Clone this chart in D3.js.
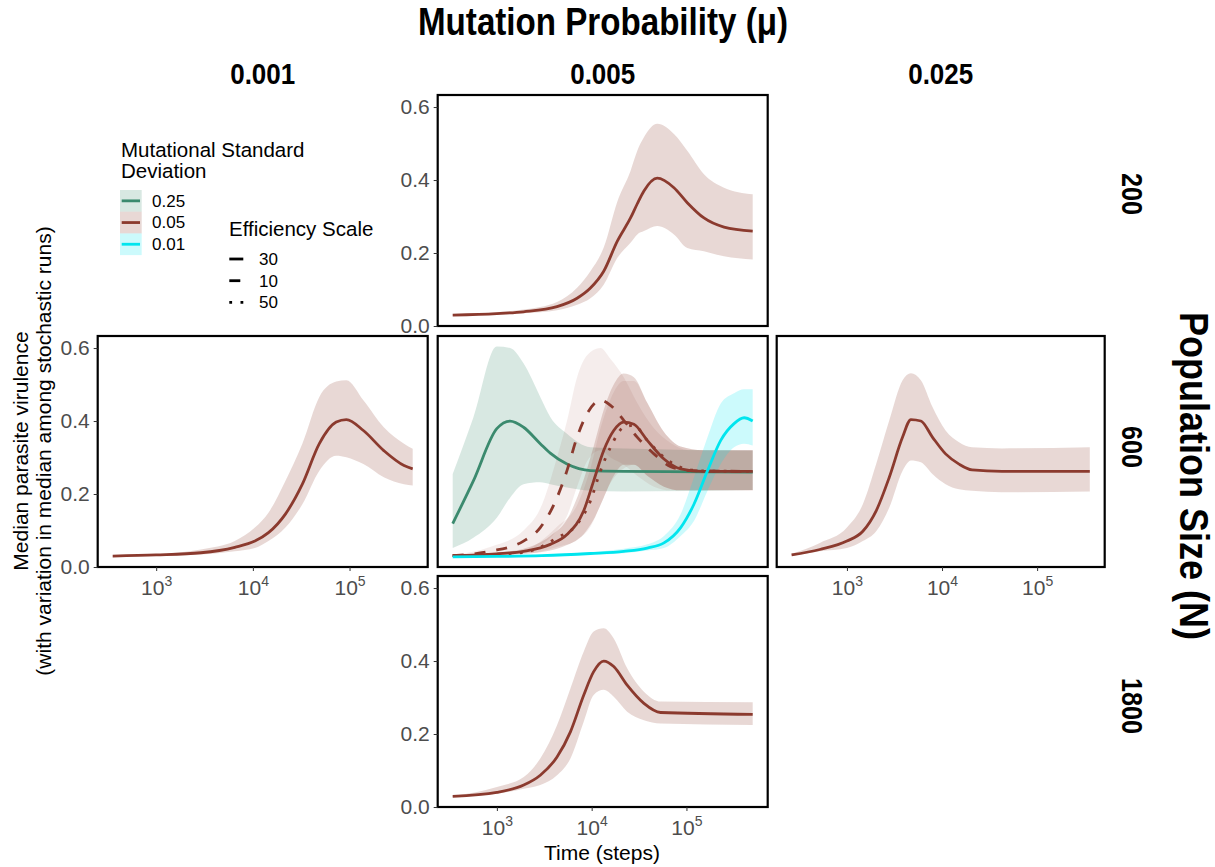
<!DOCTYPE html>
<html>
<head>
<meta charset="utf-8">
<script src="https://cdn.jsdelivr.net/npm/d3@7"></script>
<style>
  body { margin: 0; background: #fff; }
  text { font-family: "Liberation Sans", Arial, Helvetica, sans-serif; }
  .bold { font-family: "Liberation Sans Narrow", "Liberation Sans", Arial, sans-serif; font-weight: bold; }
</style>
</head>
<body>
<div id="chart"></div>
<script>
// facet levels
var muLevels = ['0.001', '0.005', '0.025'];
var popLevels = ['200', '600', '1800'];
var sdLevels = ['0.25', '0.05', '0.01'];
var effLevels = ['30', '10', '50'];
var yTicks = [0, 0.2, 0.4, 0.6];
var xTicks = [1e3, 1e4, 1e5];

// mu = 0.001, N = 600, sd 0.05, eff 30
var tA = [355, 1000, 2900, 6500, 10500, 14500, 21700, 32500, 48700, 72800, 92700, 139000, 226000, 366000, 450000];
var medA = [0.030, 0.033, 0.039, 0.054, 0.071, 0.094, 0.145, 0.227, 0.338, 0.397, 0.404, 0.374, 0.319, 0.278, 0.269];
var loA = [0.029, 0.031, 0.034, 0.043, 0.052, 0.071, 0.108, 0.172, 0.264, 0.305, 0.301, 0.282, 0.246, 0.227, 0.223];
var hiA = [0.031, 0.035, 0.048, 0.071, 0.108, 0.149, 0.236, 0.338, 0.466, 0.508, 0.512, 0.457, 0.383, 0.338, 0.324];

// mu = 0.005, N = 200, sd 0.05, eff 30
var tB = [342, 1000, 1910, 4310, 7020, 9700, 13400, 18600, 25700, 30300, 35600, 49200, 73800, 102000, 153000, 249000, 500000];
var medB = [0.030, 0.034, 0.039, 0.053, 0.076, 0.104, 0.150, 0.232, 0.296, 0.335, 0.370, 0.405, 0.379, 0.338, 0.296, 0.271, 0.260];
var loB = [0.029, 0.031, 0.035, 0.043, 0.058, 0.076, 0.113, 0.186, 0.228, 0.251, 0.260, 0.274, 0.251, 0.214, 0.205, 0.191, 0.182];
var hiB = [0.031, 0.038, 0.045, 0.066, 0.105, 0.150, 0.215, 0.340, 0.425, 0.480, 0.517, 0.554, 0.526, 0.480, 0.416, 0.379, 0.361];

// mu = 0.005, N = 1800, sd 0.05, eff 30
var tD = [342, 1000, 1920, 2870, 4310, 5970, 8260, 10500, 13400, 17100, 23700, 35600, 53400, 500000];
var medD = [0.029, 0.040, 0.060, 0.087, 0.137, 0.206, 0.307, 0.371, 0.400, 0.385, 0.334, 0.284, 0.259, 0.254];
var loD = [0.028, 0.036, 0.050, 0.060, 0.087, 0.133, 0.234, 0.307, 0.321, 0.302, 0.261, 0.238, 0.229, 0.225];
var hiD = [0.030, 0.055, 0.082, 0.133, 0.224, 0.325, 0.426, 0.481, 0.490, 0.462, 0.380, 0.316, 0.289, 0.287];

// mu = 0.025, N = 600, sd 0.05, eff 30
var tE = [262, 519, 1000, 1470, 2030, 2790, 3850, 4710, 5990, 7920, 10900, 15100, 20700, 42700, 358000];
var medE = [0.033, 0.048, 0.071, 0.098, 0.154, 0.246, 0.356, 0.404, 0.400, 0.356, 0.310, 0.282, 0.266, 0.262, 0.262];
var loE = [0.030, 0.043, 0.052, 0.071, 0.098, 0.163, 0.264, 0.292, 0.287, 0.255, 0.227, 0.213, 0.209, 0.205, 0.207];
var hiE = [0.036, 0.066, 0.108, 0.172, 0.282, 0.402, 0.512, 0.531, 0.512, 0.439, 0.374, 0.342, 0.328, 0.325, 0.328];

// mu = 0.005, N = 600: sd 0.25, eff 30
var tG = [342, 565, 998, 1380, 1910, 2870, 3660, 5490, 9700, 21800, 500000];
var medG = [0.119, 0.236, 0.379, 0.400, 0.383, 0.338, 0.312, 0.282, 0.264, 0.262, 0.260];
var loG = [0.052, 0.080, 0.135, 0.190, 0.227, 0.232, 0.227, 0.218, 0.209, 0.207, 0.211];
var hiG = [0.255, 0.410, 0.604, 0.600, 0.558, 0.466, 0.411, 0.365, 0.328, 0.325, 0.319];

// mu = 0.005, N = 600: sd 0.01, eff 30
var tC = [342, 1000, 3000, 9700, 21800, 38600, 57900, 86900, 120000, 167000, 230000, 318000, 406000, 500000];
var medC = [0.028, 0.029, 0.031, 0.037, 0.043, 0.052, 0.066, 0.108, 0.172, 0.264, 0.347, 0.393, 0.409, 0.400];
var loC = [0.026, 0.027, 0.029, 0.034, 0.038, 0.045, 0.052, 0.085, 0.126, 0.209, 0.282, 0.328, 0.338, 0.333];
var hiC = [0.030, 0.031, 0.034, 0.041, 0.050, 0.062, 0.085, 0.145, 0.246, 0.356, 0.448, 0.476, 0.487, 0.487];

// mu = 0.005, N = 600: sd 0.05, eff 30
var tR = [342, 1000, 1910, 3660, 5490, 8240, 10500, 13400, 17100, 21800, 27900, 38600, 57900, 86900, 150000, 500000];
var medR = [0.031, 0.036, 0.043, 0.062, 0.089, 0.154, 0.236, 0.319, 0.374, 0.397, 0.391, 0.347, 0.296, 0.269, 0.262, 0.262];
var loR = [0.029, 0.032, 0.036, 0.045, 0.060, 0.090, 0.130, 0.190, 0.250, 0.280, 0.280, 0.250, 0.220, 0.210, 0.210, 0.210];
var hiR = [0.033, 0.040, 0.050, 0.085, 0.130, 0.240, 0.330, 0.430, 0.500, 0.530, 0.520, 0.450, 0.370, 0.330, 0.320, 0.320];

// mu = 0.005, N = 600: sd 0.05, eff 10
var tR10 = [342, 848, 1910, 2870, 4310, 5490, 7020, 8950, 12400, 15800, 21800, 30200, 45400, 68100, 111000, 500000];
var medR10 = [0.031, 0.043, 0.071, 0.108, 0.190, 0.264, 0.356, 0.420, 0.457, 0.443, 0.402, 0.356, 0.310, 0.275, 0.264, 0.262];
var loR10 = [0.029, 0.035, 0.045, 0.060, 0.100, 0.140, 0.220, 0.290, 0.320, 0.300, 0.280, 0.250, 0.220, 0.210, 0.210, 0.210];
var hiR10 = [0.033, 0.055, 0.100, 0.160, 0.300, 0.400, 0.520, 0.580, 0.600, 0.570, 0.520, 0.450, 0.380, 0.340, 0.320, 0.320];

// mu = 0.005, N = 600: sd 0.05, eff 50
var tR50 = [342, 1910, 4310, 7020, 9700, 12400, 15800, 21800, 27900, 38600, 57900, 86900, 150000, 500000];
var medR50 = [0.031, 0.040, 0.080, 0.117, 0.181, 0.264, 0.328, 0.383, 0.388, 0.347, 0.301, 0.273, 0.263, 0.262];
var loR50 = [0.029, 0.035, 0.055, 0.075, 0.110, 0.170, 0.230, 0.270, 0.280, 0.250, 0.220, 0.210, 0.210, 0.210];
var hiR50 = [0.033, 0.046, 0.110, 0.170, 0.270, 0.380, 0.460, 0.510, 0.510, 0.450, 0.370, 0.330, 0.320, 0.320];

function mk(mu, n, sd, eff, t, med, lo, hi) {
  return {mu: mu, n: n, sd: sd, eff: eff,
    pts: t.map(function(d, i) { return {t: d, m: med[i], lo: lo[i], hi: hi[i]}; })};
}

var series = [
  mk('0.001', '600', '0.05', '30', tA, medA, loA, hiA),
  mk('0.005', '200', '0.05', '30', tB, medB, loB, hiB),
  mk('0.005', '1800', '0.05', '30', tD, medD, loD, hiD),
  mk('0.025', '600', '0.05', '30', tE, medE, loE, hiE),
  mk('0.005', '600', '0.25', '30', tG, medG, loG, hiG),
  mk('0.005', '600', '0.05', '10', tR10, medR10, loR10, hiR10),
  mk('0.005', '600', '0.05', '50', tR50, medR50, loR50, hiR50),
  mk('0.005', '600', '0.05', '30', tR, medR, loR, hiR),
  mk('0.005', '600', '0.01', '30', tC, medC, loC, hiC)
];

var colour = d3.scaleOrdinal().domain(sdLevels).range(['#3b8a6e', '#8b3a2e', '#00e5ee']);
var dash = d3.scaleOrdinal().domain(effLevels).range(['none', '11,11', '2.8,8.4']);
var bandAlpha = d3.scaleOrdinal().domain(effLevels).range([0.2, 0.09, 0.09]);

var width = 1215, height = 867;
var colX = [97.7, 437.7, 776.7], colW = [330, 330, 328];
var rowY = [95, 336, 576], panelH = 231;

var svg = d3.select('#chart').append('svg')
  .attr('width', width)
  .attr('height', height);

// free x per column: log extent with 5% expansion
var xScales = muLevels.map(function(mu) {
  var all = [];
  series.filter(function(s) { return s.mu === mu; }).forEach(function(s) {
    s.pts.forEach(function(p) { all.push(Math.log10(p.t)); });
  });
  var ext = d3.extent(all), pad = (ext[1] - ext[0]) * 0.05;
  return d3.scaleLog().domain([Math.pow(10, ext[0] - pad), Math.pow(10, ext[1] + pad)]);
});

var panels = [
  {c: 0, r: 1, yAxis: true, xAxis: true},
  {c: 1, r: 0, yAxis: true, xAxis: false},
  {c: 1, r: 1, yAxis: false, xAxis: false},
  {c: 1, r: 2, yAxis: true, xAxis: true},
  {c: 2, r: 1, yAxis: false, xAxis: true}
];

panels.forEach(function(p) {
  var x0 = colX[p.c], y0 = rowY[p.r], panelW = colW[p.c];
  var g = svg.append('g').attr('transform', 'translate(' + x0 + ',' + y0 + ')');
  var x = xScales[p.c].copy().range([0, panelW]);
  var y = d3.scaleLinear().domain([0, 0.633]).range([panelH, 0]);
  var ss = series.filter(function(s) { return s.mu === muLevels[p.c] && s.n === popLevels[p.r]; });

  var area = d3.area().curve(d3.curveMonotoneX)
    .x(function(d) { return x(d.t); })
    .y0(function(d) { return y(d.lo); })
    .y1(function(d) { return y(d.hi); });
  var line = d3.line().curve(d3.curveMonotoneX)
    .x(function(d) { return x(d.t); })
    .y(function(d) { return y(d.m); });

  g.selectAll('path.band').data(ss).enter().append('path')
    .attr('class', 'band')
    .attr('d', function(d) { return area(d.pts); })
    .attr('fill', function(d) { return colour(d.sd); })
    .attr('fill-opacity', function(d) { return bandAlpha(d.eff); });
  g.selectAll('path.med').data(ss).enter().append('path')
    .attr('class', 'med')
    .attr('d', function(d) { return line(d.pts); })
    .attr('fill', 'none')
    .attr('stroke', function(d) { return colour(d.sd); })
    .attr('stroke-width', 2.8)
    .attr('stroke-dasharray', function(d) { return dash(d.eff); });

  g.append('rect').attr('width', panelW).attr('height', panelH)
    .attr('fill', 'none').attr('stroke', '#000').attr('stroke-width', 2.2);

  if (p.yAxis) {
    var ya = g.append('g').call(d3.axisLeft(y).tickValues(yTicks).tickFormat(d3.format('.1f')).tickSize(4).tickPadding(4));
    ya.select('.domain').remove();
    ya.selectAll('line').attr('stroke', '#333');
    ya.selectAll('text').attr('font-size', 21).attr('fill', '#4d4d4d')
      .style('font-family', '"Liberation Sans", Arial, sans-serif');
  }
  if (p.xAxis) {
    var xa = g.append('g').attr('transform', 'translate(0,' + panelH + ')')
      .call(d3.axisBottom(x).tickValues(xTicks).tickFormat('').tickSize(4));
    xa.select('.domain').remove();
    xa.selectAll('line').attr('stroke', '#333');
    xa.selectAll('.tick').append('text')
      .attr('y', 28).attr('text-anchor', 'middle').attr('fill', '#4d4d4d')
      .attr('font-size', 21)
      .each(function(d) {
        var t = d3.select(this);
        t.append('tspan').text('10');
        t.append('tspan').attr('dy', -9).attr('font-size', 14).text(Math.round(Math.log10(d)));
      });
  }
});

// strip labels (condensed bold, widths fitted)
svg.append('text').attr('class', 'bold').attr('x', 603).attr('y', 35)
  .attr('text-anchor', 'middle').attr('font-size', 38)
  .attr('textLength', 370).attr('lengthAdjust', 'spacingAndGlyphs')
  .text('Mutation Probability (μ)');
svg.selectAll('text.colstrip').data(muLevels).enter().append('text')
  .attr('class', 'bold').attr('x', function(d, i) { return colX[i] + colW[i] / 2; }).attr('y', 84)
  .attr('text-anchor', 'middle').attr('font-size', 30)
  .attr('textLength', 65).attr('lengthAdjust', 'spacingAndGlyphs')
  .text(function(d) { return d; });
var rowLabelY = [194, 447, 706];
svg.selectAll('text.rowstrip').data(popLevels).enter().append('text')
  .attr('class', 'bold')
  .attr('transform', function(d, i) { return 'translate(1122,' + rowLabelY[i] + ') rotate(90)'; })
  .attr('text-anchor', 'middle').attr('font-size', 30)
  .attr('textLength', function(d) { return d.length * 14; }).attr('lengthAdjust', 'spacingAndGlyphs')
  .text(function(d) { return d; });
svg.append('text').attr('class', 'bold')
  .attr('transform', 'translate(1180,476) rotate(90)')
  .attr('text-anchor', 'middle').attr('font-size', 40)
  .attr('textLength', 328).attr('lengthAdjust', 'spacingAndGlyphs')
  .text('Population Size (N)');

// axis titles
svg.append('text').attr('x', 602).attr('y', 860).attr('text-anchor', 'middle')
  .attr('font-size', 21).text('Time (steps)');
var yt = svg.append('text').attr('transform', 'translate(28,451) rotate(-90)')
  .attr('text-anchor', 'middle').attr('font-size', 21);
yt.append('tspan').attr('x', 0).attr('y', 0).text('Median parasite virulence');
yt.append('tspan').attr('x', 0).attr('y', 23).text('(with variation in median among stochastic runs)');

// legend: mutational sd
var lg = svg.append('g').attr('transform', 'translate(120,0)');
lg.append('text').attr('x', 1).attr('y', 156.7).attr('font-size', 20.5).text('Mutational Standard');
lg.append('text').attr('x', 1).attr('y', 178.3).attr('font-size', 20.5).text('Deviation');
var keys = lg.selectAll('g.key').data(sdLevels).enter().append('g')
  .attr('transform', function(d, i) { return 'translate(0,' + (190 + i * 21.7) + ')'; });
keys.append('rect').attr('width', 21.7).attr('height', 21.7)
  .attr('fill', function(d) { return colour(d); }).attr('fill-opacity', 0.2);
keys.append('line').attr('x1', 1.7).attr('x2', 20).attr('y1', 10.85).attr('y2', 10.85)
  .attr('stroke', function(d) { return colour(d); }).attr('stroke-width', 2.8);
keys.append('text').attr('x', 32).attr('y', 10.85).attr('dy', '0.35em').attr('font-size', 17)
  .text(function(d) { return d; });

// legend: efficiency scale
var le = svg.append('g').attr('transform', 'translate(229,0)');
le.append('text').attr('x', 0).attr('y', 236).attr('font-size', 20.5).text('Efficiency Scale');
var ek = le.selectAll('g.key').data(effLevels).enter().append('g')
  .attr('transform', function(d, i) { return 'translate(0,' + (259 + i * 21.7) + ')'; });
ek.append('line').attr('x1', 0.3).attr('x2', 14.3)
  .attr('stroke', '#000').attr('stroke-width', 2.8)
  .attr('stroke-dasharray', function(d) { return dash(d); });
ek.append('text').attr('x', 30).attr('dy', '0.35em').attr('font-size', 17)
  .text(function(d) { return d; });
</script>
</body>
</html>
